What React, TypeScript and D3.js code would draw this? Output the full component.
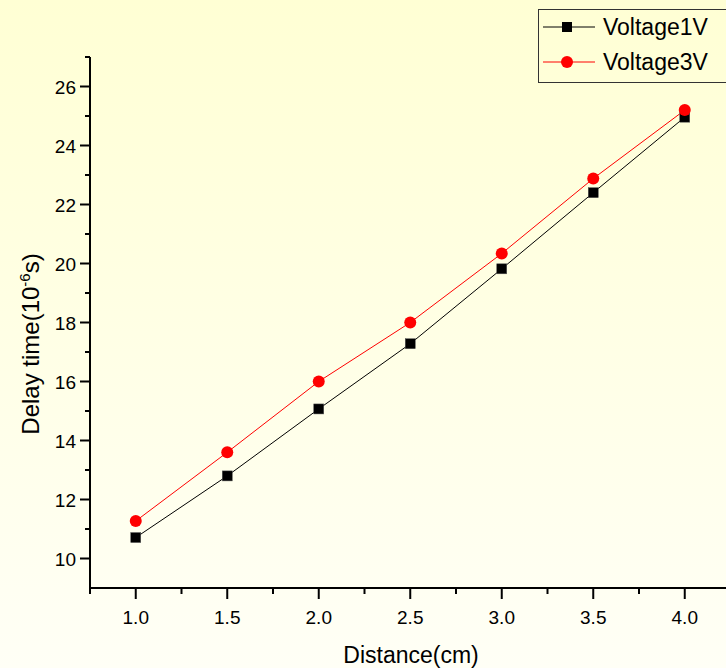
import React, { useEffect, useRef } from "react";
import * as d3 from "d3";

const distance = [1.0, 1.5, 2.0, 2.5, 3.0, 3.5, 4.0];
const voltage1V = [10.71, 12.8, 15.07, 17.28, 19.82, 22.4, 24.96];
const voltage3V = [11.27, 13.6, 16.0, 18.0, 20.34, 22.88, 25.2];
const xTicks = [1.0, 1.5, 2.0, 2.5, 3.0, 3.5, 4.0];
const yTicks = [10, 12, 14, 16, 18, 20, 22, 24, 26];

const W = 726;
const H = 668;

const App = () => {
  const ref = useRef<SVGSVGElement>(null);

  useEffect(() => {
    const svg = d3.select(ref.current);
    svg.selectAll("*").remove();
    const font = "'Liberation Sans', Arial, sans-serif";

    // background gradient
    const defs = svg.append("defs");
    const grad = defs
      .append("linearGradient")
      .attr("id", "bg")
      .attr("x1", 0)
      .attr("y1", 0)
      .attr("x2", 0)
      .attr("y2", 1);
    grad.append("stop").attr("offset", "0%").attr("stop-color", "#ffffd4");
    grad.append("stop").attr("offset", "100%").attr("stop-color", "#fffff6");
    svg.append("rect").attr("width", W).attr("height", H).attr("fill", "url(#bg)");

    // scales
    const x = d3.scaleLinear().domain([0.75, 4.25]).range([90, 90 + 3.5 * 183]);
    const y = d3.scaleLinear().domain([9, 27]).range([588, 57]);

    const g = svg.append("g");

    // axis lines
    g.append("line")
      .attr("x1", 90).attr("x2", 90)
      .attr("y1", y(27)).attr("y2", y(9))
      .attr("stroke", "#000").attr("stroke-width", 2);
    g.append("line")
      .attr("x1", 89).attr("x2", x(4.25))
      .attr("y1", 588).attr("y2", 588)
      .attr("stroke", "#000").attr("stroke-width", 2);

    // x ticks
    const xMinor = d3.range(0.75, 4.3, 0.5);
    xMinor.forEach((v) => {
      g.append("line")
        .attr("x1", x(v)).attr("x2", x(v))
        .attr("y1", 588).attr("y2", 594)
        .attr("stroke", "#000").attr("stroke-width", 2);
    });
    xTicks.forEach((v) => {
      g.append("line")
        .attr("x1", x(v)).attr("x2", x(v))
        .attr("y1", 588).attr("y2", 599)
        .attr("stroke", "#000").attr("stroke-width", 2);
      g.append("text")
        .attr("x", x(v)).attr("y", 624)
        .attr("text-anchor", "middle")
        .attr("font-family", font).attr("font-size", 19)
        .text(d3.format(".1f")(v));
    });

    // y ticks
    d3.range(11, 28, 2).forEach((v) => {
      g.append("line")
        .attr("x1", 85).attr("x2", 90)
        .attr("y1", y(v)).attr("y2", y(v))
        .attr("stroke", "#000").attr("stroke-width", 2);
    });
    yTicks.forEach((v) => {
      g.append("line")
        .attr("x1", 80).attr("x2", 90)
        .attr("y1", y(v)).attr("y2", y(v))
        .attr("stroke", "#000").attr("stroke-width", 2);
      g.append("text")
        .attr("x", 76).attr("y", y(v) + 7)
        .attr("text-anchor", "end")
        .attr("font-family", font).attr("font-size", 19)
        .text(v);
    });

    // axis titles
    g.append("text")
      .attr("x", 411).attr("y", 663)
      .attr("text-anchor", "middle")
      .attr("font-family", font).attr("font-size", 23)
      .text("Distance(cm)");

    const yt = g.append("text")
      .attr("transform", "translate(39,344) rotate(-90)")
      .attr("text-anchor", "middle")
      .attr("font-family", font).attr("font-size", 24);
    yt.append("tspan").text("Delay time(10");
    yt.append("tspan").attr("font-size", 15).attr("dy", -9).text("-6");
    yt.append("tspan").attr("dy", 9).text("s)");

    // lines
    const line = d3
      .line<number>()
      .x((_, i) => x(distance[i]))
      .y((d) => y(d));

    g.append("path")
      .attr("d", line(voltage1V))
      .attr("fill", "none").attr("stroke", "#000").attr("stroke-width", 1);
    g.append("path")
      .attr("d", line(voltage3V))
      .attr("fill", "none").attr("stroke", "#ff0000").attr("stroke-width", 1);

    g.selectAll(".sq")
      .data(voltage1V)
      .enter()
      .append("rect")
      .attr("x", (_, i) => x(distance[i]) - 5)
      .attr("y", (d) => y(d) - 5)
      .attr("width", 10).attr("height", 10)
      .attr("fill", "#000").attr("stroke", "#555").attr("stroke-width", 0.5);

    g.selectAll(".ci")
      .data(voltage3V)
      .enter()
      .append("circle")
      .attr("cx", (_, i) => x(distance[i]))
      .attr("cy", (d) => y(d))
      .attr("r", 6)
      .attr("fill", "#ff0000");

    // legend
    const lg = svg.append("g");
    lg.append("rect")
      .attr("x", 538.5).attr("y", 9.5)
      .attr("width", 200).attr("height", 73)
      .attr("fill", "none").attr("stroke", "#333").attr("stroke-width", 1);
    const items = [
      { name: "Voltage1V", color: "#000", shape: "square", yy: 27 },
      { name: "Voltage3V", color: "#ff0000", shape: "circle", yy: 62 },
    ];
    items.forEach((it) => {
      lg.append("line")
        .attr("x1", 543).attr("x2", 595)
        .attr("y1", it.yy).attr("y2", it.yy)
        .attr("stroke", it.color).attr("stroke-width", 1);
      if (it.shape === "square") {
        lg.append("rect")
          .attr("x", 562).attr("y", it.yy - 5)
          .attr("width", 10).attr("height", 10)
          .attr("fill", it.color);
      } else {
        lg.append("circle")
          .attr("cx", 567).attr("cy", it.yy).attr("r", 6)
          .attr("fill", it.color);
      }
      lg.append("text")
        .attr("x", 603).attr("y", it.yy + 8)
        .attr("font-family", font).attr("font-size", 23)
        .text(it.name);
    });
  }, []);

  return (
    <svg
      ref={ref}
      width={W}
      height={H}
      style={{ position: "absolute", left: 0, top: 0, display: "block" }}
    />
  );
};

export default App;
